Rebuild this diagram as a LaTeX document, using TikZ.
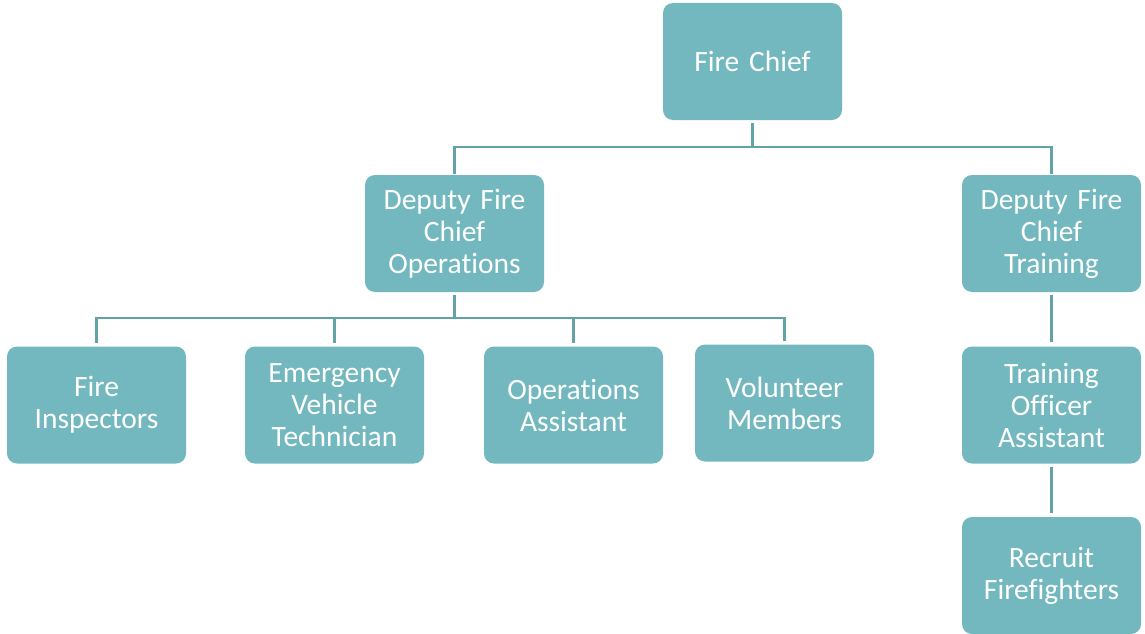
\documentclass[tikz,border=0pt]{standalone}
\usepackage{fontspec}
\setmainfont{Carlito}[Ligatures=NoCommon]
\definecolor{boxc}{HTML}{72B8BE}
\definecolor{linec}{HTML}{63A3A8}
\begin{document}
\begin{tikzpicture}[x=1pt,y=-1pt,
  box/.style={rectangle, rounded corners=10pt, fill=boxc, draw=none,
    minimum width=179pt, minimum height=117pt, text width=176pt,
    align=center, inner sep=0pt, text=white,
    font=\fontsize{29.5}{32}\selectfont},
  conn/.style={draw=linec, line width=2.5pt}]
\useasboundingbox (0,0) rectangle (1145,634);
\node[box] (chief) at (752.5,61.5) {Fire Chief};
\node[box] (dops) at (454.5,233.5) {Deputy Fire\\Chief\\Operations};
\node[box] (dtr) at (1051.5,233.5) {Deputy Fire\\Chief\\Training};
\node[box] (fi) at (96.5,405) {Fire\\Inspectors};
\node[box] (evt) at (334.5,405) {Emergency\\Vehicle\\Technician};
\node[box] (oa) at (573.5,405) {Operations\\Assistant};
\node[box] (vm) at (784.5,403) {Volunteer\\Members};
\node[box] (toa) at (1051.5,405) {Training\\Officer\\Assistant};
\node[box] (rf) at (1051.5,575.5) {Recruit\\Firefighters};
\coordinate (b1) at (0,147);
\coordinate (b2) at (0,318);
% Fire Chief to deputies
\draw[conn, shorten <=2.5pt] (chief.south) -- (chief.south |- b1);
\draw[conn, shorten >=1pt] (chief.south |- b1) -| (dops.north);
\draw[conn, shorten >=1pt] (chief.south |- b1) -| (dtr.north);
% Deputy Operations to its team
\draw[conn, shorten <=2.5pt] (dops.south) -- (dops.south |- b2);
\draw[conn, shorten >=3pt] (dops.south |- b2) -| (fi.north);
\draw[conn, shorten >=3pt] (dops.south |- b2) -| (evt.north);
\draw[conn, shorten >=3pt] (dops.south |- b2) -| (oa.north);
\draw[conn, shorten >=3pt] (dops.south |- b2) -| (vm.north);
% Training chain
\draw[conn, shorten <=3pt, shorten >=4pt] (dtr.south) -- (toa.north);
\draw[conn, shorten <=3pt, shorten >=4pt] (toa.south) -- (rf.north);
\end{tikzpicture}
\end{document}
